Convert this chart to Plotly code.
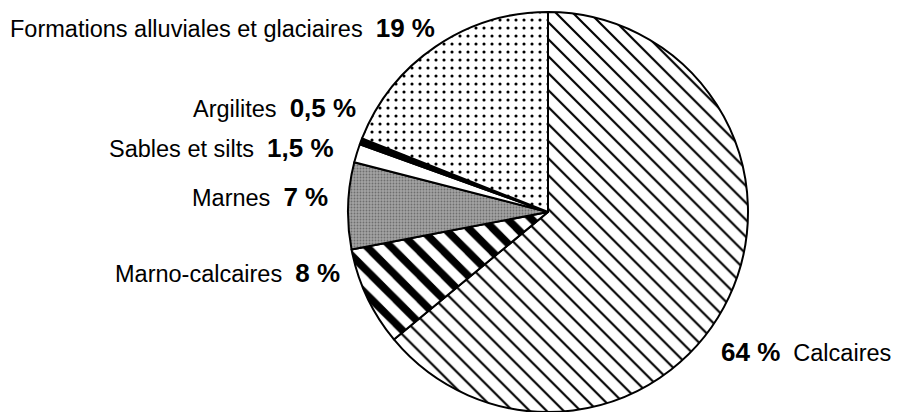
import plotly.graph_objects as go

# Lithologie (parts en %), dans le sens horaire depuis le haut
labels = [
    "Calcaires",
    "Marno-calcaires",
    "Marnes",
    "Sables et silts",
    "Argilites",
    "Formations alluviales et glaciaires",
]
values = [64, 8, 7, 1.5, 0.5, 19]


def pct(v):
    return f"{v:g}".replace(".", ",") + " %"


# Slice fills (patterns imitate the black & white print)
fills = [
    dict(bgcolor="white", fgcolor="black", shape="\\", size=12, solidity=0.18),
    dict(bgcolor="white", fgcolor="black", shape="\\", size=17, solidity=0.45),
    dict(bgcolor="#a3a3a3", fgcolor="#6e6e6e", shape=".", size=3, solidity=0.3),
    dict(bgcolor="white", fgcolor="white", shape="", size=8, solidity=0.1),
    dict(bgcolor="black", fgcolor="black", shape="", size=8, solidity=0.1),
    dict(bgcolor="white", fgcolor="black", shape=".", size=8, solidity=0.12),
]

OFF = 8  # page body margin shifts the figure by 8px
W, H = 899 - OFF, 412 - OFF

fig = go.Figure(
    go.Pie(
        labels=labels,
        values=values,
        sort=False,
        direction="clockwise",
        rotation=0,
        textinfo="none",
        hoverinfo="label+percent",
        marker=dict(
            colors=[f["bgcolor"] for f in fills],
            line=dict(color="black", width=2),
            pattern=dict(
                shape=[f["shape"] for f in fills],
                fgcolor=[f["fgcolor"] for f in fills],
                bgcolor=[f["bgcolor"] for f in fills],
                size=[f["size"] for f in fills],
                solidity=[f["solidity"] for f in fills],
                fgopacity=1,
                fillmode="overlay",
            ),
        ),
        domain=dict(x=[(348 - OFF) / W, (748 - OFF) / W],
                    y=[0, (H - 12 + OFF) / H]),
        showlegend=False,
    )
)

# label positions in pixels of the screenshot (x, y centre, anchor)
spots = {
    "Formations alluviales et glaciaires": (437, 28, "right"),
    "Argilites": (358, 108, "right"),
    "Sables et silts": (336, 148, "right"),
    "Marnes": (330, 197, "right"),
    "Marno-calcaires": (342, 273, "right"),
    "Calcaires": (719, 352, "left"),
}

for lab, v in zip(labels, values):
    x, y, anchor = spots[lab]
    big = f"<span style='font-size:26px'><b>{pct(v)}</b></span>"
    txt = f"{big}  {lab}" if anchor == "left" else f"{lab}  {big}"
    fig.add_annotation(
        x=(x - OFF) / W, y=1 - (y - OFF) / H, xref="paper", yref="paper",
        xanchor=anchor, yanchor="middle", showarrow=False,
        text=txt, font=dict(size=23.5, color="black"),
    )

fig.update_layout(
    width=W, height=H,
    margin=dict(l=0, r=0, t=0, b=0),
    paper_bgcolor="white", plot_bgcolor="white",
    font=dict(family="Liberation Sans, Arial, sans-serif"),
)

fig.write_html("out.html")
